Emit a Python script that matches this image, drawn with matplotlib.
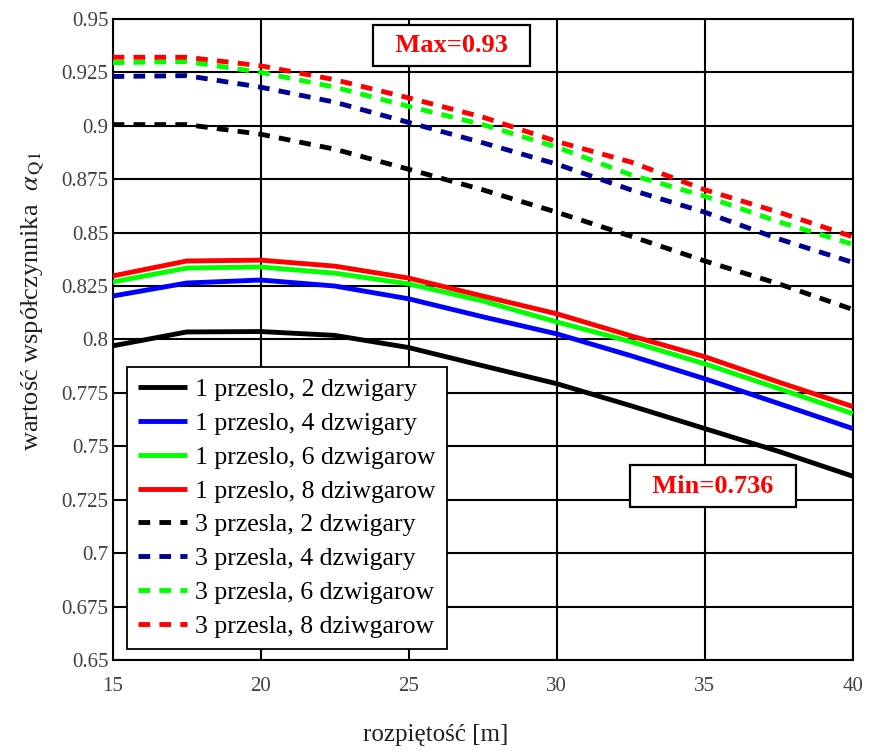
import matplotlib
matplotlib.use('Agg')
import matplotlib.pyplot as plt
import numpy as np

# span [m]
span = [15, 17.5, 20, 22.5, 25, 27.5, 30, 32.5, 35, 37.5, 40]

# 1 span (solid)
p1_d2 = [0.797, 0.8035, 0.8037, 0.8019, 0.7962, 0.7877, 0.7793, 0.769, 0.7583, 0.7476, 0.736]
p1_d4 = [0.8203, 0.8264, 0.8278, 0.825, 0.819, 0.8106, 0.8026, 0.7924, 0.7816, 0.770, 0.7583]
p1_d6 = [0.8269, 0.8334, 0.8339, 0.831, 0.826, 0.818, 0.8082, 0.799, 0.7886, 0.777, 0.7653]
p1_d8 = [0.8297, 0.8367, 0.8371, 0.8343, 0.8287, 0.8203, 0.812, 0.8017, 0.7919, 0.780, 0.7686]

# 3 spans (dashed)
p3_d2 = [0.9005, 0.9005, 0.896, 0.889, 0.8796, 0.870, 0.8595, 0.8483, 0.8367, 0.826, 0.814]
p3_d4 = [0.923, 0.9234, 0.918, 0.911, 0.9015, 0.892, 0.882, 0.870, 0.8595, 0.847, 0.836]
p3_d6 = [0.9295, 0.930, 0.925, 0.918, 0.909, 0.9005, 0.890, 0.877, 0.867, 0.855, 0.8445]
p3_d8 = [0.932, 0.932, 0.928, 0.9215, 0.913, 0.904, 0.8926, 0.883, 0.870, 0.8595, 0.848]

labels = ['1 przeslo, 2 dzwigary', '1 przeslo, 4 dzwigary',
          '1 przeslo, 6 dzwigarow', '1 przeslo, 8 dziwgarow',
          '3 przesla, 2 dzwigary', '3 przesla, 4 dzwigary',
          '3 przesla, 6 dzwigarow', '3 przesla, 8 dziwgarow']

x_ticks = [15, 20, 25, 30, 35, 40]
y_ticks = [0.65, 0.675, 0.7, 0.725, 0.75, 0.775, 0.8, 0.825, 0.85,
           0.875, 0.9, 0.925, 0.95]
y_tick_labels = ['0.65', '0.675', '0.7', '0.725', '0.75', '0.775', '0.8',
                 '0.825', '0.85', '0.875', '0.9', '0.925', '0.95']

plt.rcParams['font.family'] = ['Liberation Serif', 'DejaVu Serif']
plt.rcParams['mathtext.fontset'] = 'stix'

fig = plt.figure(figsize=(8.73, 7.51), dpi=100)
ax = fig.add_axes([0.129, 0.121, 0.848, 0.854])

solid = [(p1_d2, '#000000'), (p1_d4, '#0000ff'), (p1_d6, '#00ff00'), (p1_d8, '#ff0000')]
dashed = [(p3_d2, '#000000'), (p3_d4, '#000090'), (p3_d6, '#00ff00'), (p3_d8, '#ff0000')]

lines = []
for (vals, c) in solid:
    l, = ax.plot(span, vals, color=c, linewidth=3.5, solid_capstyle='butt', zorder=3)
    lines.append(l)
for (vals, c) in dashed:
    l, = ax.plot(span, vals, color=c, linewidth=3.5, linestyle=(0, (2.4, 1.9)), zorder=3)
    lines.append(l)

ax.set_xlim(15, 40)
ax.set_ylim(0.65, 0.95)
ax.set_xticks(x_ticks)
ax.set_yticks(y_ticks)
ax.set_yticklabels(y_tick_labels)
ax.grid(True, color='black', linewidth=1.5, zorder=1)
ax.set_axisbelow(True)
for sp in ax.spines.values():
    sp.set_color('black')
    sp.set_linewidth(1.5)
ax.tick_params(length=0, pad=3, labelsize=15, colors='#404040')
ax.tick_params(axis='x', pad=12)

ax.set_xlabel('rozpiętość [m]', fontsize=18, color='#202020')
ax.xaxis.set_label_coords(0.436, -0.1)
ax.set_ylabel(r'wartość współczynnika  $\alpha_{\,\mathrm{Q1}}$', fontsize=19,
              color='#202020')
ax.yaxis.set_label_coords(-0.09, 0.56)

leg = ax.legend(lines, labels, loc='lower left', bbox_to_anchor=(0.019, 0.017),
                fontsize=18.5, frameon=True, fancybox=False, framealpha=1,
                edgecolor='black', handlelength=1.9, handletextpad=0.3,
                labelspacing=0.42, borderpad=0.45, borderaxespad=0)
leg.get_frame().set_linewidth(1.3)
leg.set_zorder(5)

ax.text(26.45, 0.9374, '  Max=0.93  ', fontsize=19, fontweight='bold', color='#ff0000',
        ha='center', va='center', zorder=6,
        bbox=dict(boxstyle='square,pad=0.35', facecolor='white', edgecolor='black', linewidth=1.6))
ax.text(35.27, 0.7314, '  Min=0.736  ', fontsize=19, fontweight='bold', color='#ff0000',
        ha='center', va='center', zorder=6,
        bbox=dict(boxstyle='square,pad=0.35', facecolor='white', edgecolor='black', linewidth=1.6))

fig.savefig('out.png', dpi=100, facecolor='white')
